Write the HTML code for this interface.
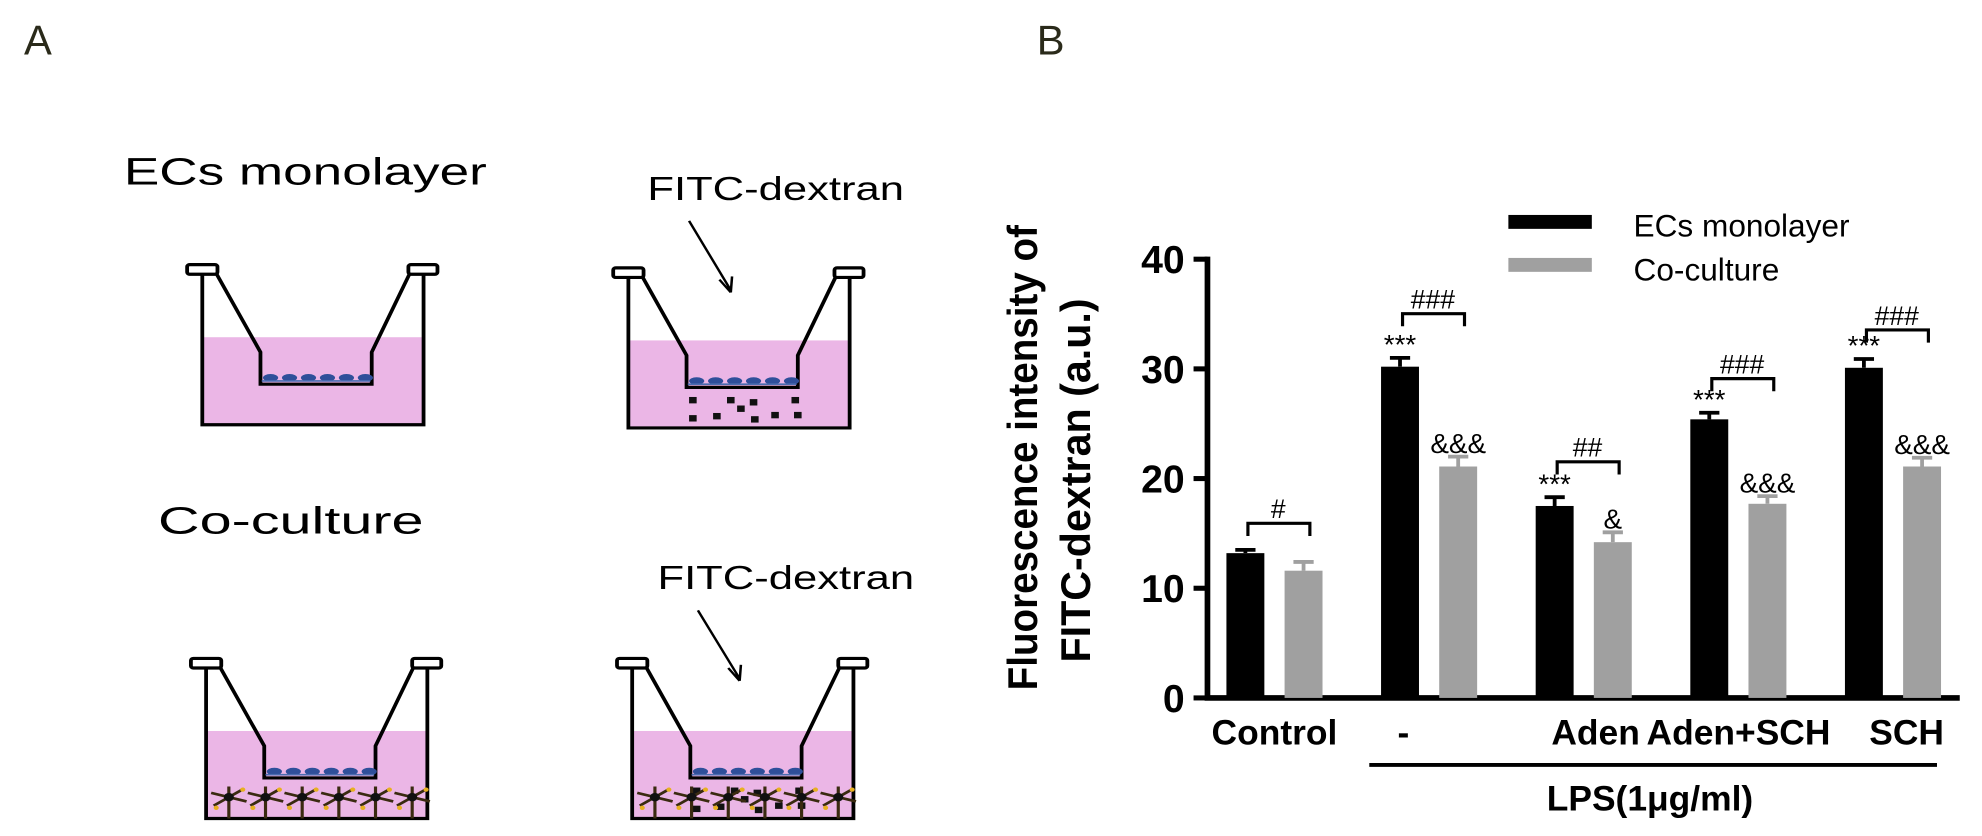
<!DOCTYPE html>
<html><head><meta charset="utf-8"><style>
body{margin:0;background:#fff;width:1982px;height:836px;overflow:hidden}
svg{display:block}
text{font-family:"Liberation Sans",sans-serif}
</style></head><body>
<svg id="s" width="1982" height="836" viewBox="0 0 1567.6 661.2">
<text x="19" y="43" font-size="33" fill="#2a2a1a">A</text>
<text x="820" y="43" font-size="33" fill="#2a2a1a">B</text>
<text x="98" y="146" font-size="30" textLength="287" lengthAdjust="spacingAndGlyphs">ECs monolayer</text>
<text x="125" y="422" font-size="30" textLength="210" lengthAdjust="spacingAndGlyphs">Co-culture</text>
<text x="512" y="158" font-size="26" textLength="203" lengthAdjust="spacingAndGlyphs">FITC-dextran</text>
<text x="520" y="466" font-size="26" textLength="203" lengthAdjust="spacingAndGlyphs">FITC-dextran</text>
<g id="wells" transform="scale(1,0.844)"></g>
<g id="chart"></g>
</svg>
<script>
const NS="http://www.w3.org/2000/svg";
function mk(p,t,a){const e=document.createElementNS(NS,t);for(const k in a)e.setAttribute(k,a[k]);p.appendChild(e);return e;}
const W=document.getElementById('wells');
function well(ox,oy,name,dex,cocult){
  const g=mk(W,'g',{transform:`translate(${ox},${oy})`});
  
  
  mk(g,'rect',{x:160,y:316,width:175,height:82,fill:'#ebb6e6'});
  const st={stroke:'#000','stroke-width':3,fill:'none'};
  mk(g,'path',Object.assign({d:'M160 254 L160 398 L335 398 L335 254'},st));
  mk(g,'path',Object.assign({d:'M170 254 L206 330 L206 360 L294 360 L294 330 L325 254'},st));
  mk(g,'rect',Object.assign({x:148,y:248,width:24,height:9,rx:2},st,{fill:'#fff'}));
  mk(g,'rect',Object.assign({x:323,y:248,width:23,height:9,rx:2},st,{fill:'#fff'}));
  for(let i=0;i<6;i++)mk(g,'ellipse',{cx:214+i*15,cy:354,rx:6,ry:3.5,fill:'#2f4f9a'});
  mk(g,'line',{x1:207,y1:357,x2:293,y2:357,stroke:'#4a6cb0','stroke-width':1.5});
  if(dex){
    const pts=[[211,372],[241,372],[259,374],[292,372],[249,380],[211,389],[230,387],[260,390],[276,386],[294,386]];
    pts.forEach(p=>mk(g,'rect',{x:p[0]-3,y:p[1]-3,width:6,height:6,fill:'#111'}));
  }
  if(cocult){
    for(let i=0;i<6;i++){const cx=178+i*29;
      mk(g,'path',{d:`M${cx-14} 374 L${cx+14} 382 M${cx-12} 386 L${cx+12} 370 M${cx} 368 L${cx} 398`,stroke:'#3a2a10','stroke-width':2.5});
      mk(g,'circle',{cx:cx,cy:378,r:4,fill:'#111'});
      mk(g,'circle',{cx:cx+11,cy:371,r:2,fill:'#e8b020'});
      mk(g,'circle',{cx:cx-10,cy:388,r:2,fill:'#e8b020'});}
  }
}
well(0,0,'well-ecs-control',false,false);
well(337,3,'well-ecs-fitc',true,false);
well(3,369,'well-coculture-control',false,true);
well(340,369,'well-coculture-fitc',true,true);
const a1=mk(W,'path',{d:'M545 207 L578 272 M578 274 L569 262 M578 274 L579 259',stroke:'#000','stroke-width':2,fill:'none'});


const a2=mk(W,'path',{d:'M552 572 L585 636 M585 638 L576 626 M585 638 L586 623',stroke:'#000','stroke-width':2,fill:'none'});



// chart data
const categories=["Control","-","Aden","Aden+SCH","SCH"];
const ecsValues=[13.2,30.2,17.5,25.4,30.1];
const ecsErr=[0.3,0.8,0.8,0.6,0.8];
const coValues=[11.6,21.1,14.2,17.7,21.1];
const coErr=[0.8,0.9,0.9,0.7,0.8];
const yTicks=[0,10,20,30,40];
const ecsMarks=["","***","***","***","***"];
const coMarks=["","&&&","&","&&&","&&&"];
const pairMarks=["#","###","##","###","###"];

const C=document.getElementById('chart');
const y0=552,yTop=205,yMax=40;
const Y=v=>y0-(v/yMax)*(y0-yTop);
const axX=955, x0=1008, step=122.3;
const X=i=>x0+i*step;
const bw=30,half=23;
const bracketOffset=[21,35,28,27,23];
const ax=mk(C,'path',{d:`M${axX} ${Y(40)-2} L${axX} ${y0} L1550 ${y0}`,stroke:'#000','stroke-width':4.5,fill:'none'});


yTicks.forEach(t=>{
  const l=mk(C,'line',{x1:944,x2:axX,y1:Y(t),y2:Y(t),stroke:'#000','stroke-width':4});
  
  
  const tx=mk(C,'text',{x:937,y:Y(t)+11,'font-size':31,'font-weight':'bold','text-anchor':'end'});
  tx.textContent=t;
  
  
});
const yt=mk(C,'text',{transform:'translate(820,362) rotate(-90)','font-size':33,'font-weight':'bold','text-anchor':'middle',textLength:368,lengthAdjust:'spacingAndGlyphs'});
yt.textContent='Fluorescence intensity of';


const yt2=mk(C,'text',{transform:'translate(862,380) rotate(-90)','font-size':33,'font-weight':'bold','text-anchor':'middle',textLength:288,lengthAdjust:'spacingAndGlyphs'});
yt2.textContent='FITC-dextran (a.u.)';



function bar(x,v,e,color,name,mark){
  const r=mk(C,'rect',{x:x-bw/2,y:Y(v),width:bw,height:y0-Y(v),fill:color});
  
  
  const eb=mk(C,'path',{d:`M${x} ${Y(v)} L${x} ${Y(v+e)} M${x-8} ${Y(v+e)} L${x+8} ${Y(v+e)}`,stroke:color,'stroke-width':3});
  
  
  if(mark){const t=mk(C,'text',{x:x,y:Y(v+e)-3,'font-size':22,'text-anchor':'middle'});t.textContent=mark;
    
    }
}
categories.forEach((c,i)=>{
  const gx=X(i);
  const xb=gx-half, xg=gx+half;
  bar(xb,ecsValues[i],ecsErr[i],'#000','bar-ecs-'+i,ecsMarks[i]);
  bar(xg,coValues[i],coErr[i],'#a0a0a0','bar-coculture-'+i,coMarks[i]);
  const top=Math.max(ecsValues[i]+ecsErr[i],coValues[i]+coErr[i]);
  const by=Y(top)-bracketOffset[i];
  const br=mk(C,'path',{d:`M${xb+2} ${by+10} L${xb+2} ${by} L${xg+5} ${by} L${xg+5} ${by+10}`,stroke:'#000','stroke-width':2.5,fill:'none'});
  
  
  const pt=mk(C,'text',{x:(xb+xg)/2+3,y:by-4,'font-size':21,'text-anchor':'middle'});pt.textContent=pairMarks[i];
  
  
});
const labelX=[1008,1110,1262,1375,1508];
categories.forEach((c,i)=>{
  const lb=mk(C,'text',{x:labelX[i],y:589,'font-size':28,'font-weight':'bold','text-anchor':'middle'});lb.textContent=c;
  
  
});
const lps=mk(C,'line',{x1:1083,x2:1532,y1:605,y2:605,stroke:'#000','stroke-width':3});


const lt=mk(C,'text',{x:1305,y:641,'font-size':28,'font-weight':'bold','text-anchor':'middle'});lt.textContent='LPS(1μg/ml)';


const l1=mk(C,'rect',{x:1193,y:170,width:66,height:11,fill:'#000'});


const l2=mk(C,'rect',{x:1193,y:204,width:66,height:11,fill:'#a0a0a0'});


const lt1=mk(C,'text',{x:1292,y:187,'font-size':25});lt1.textContent='ECs monolayer';


const lt2=mk(C,'text',{x:1292,y:222,'font-size':25});lt2.textContent='Co-culture';


</script>
</body></html>
